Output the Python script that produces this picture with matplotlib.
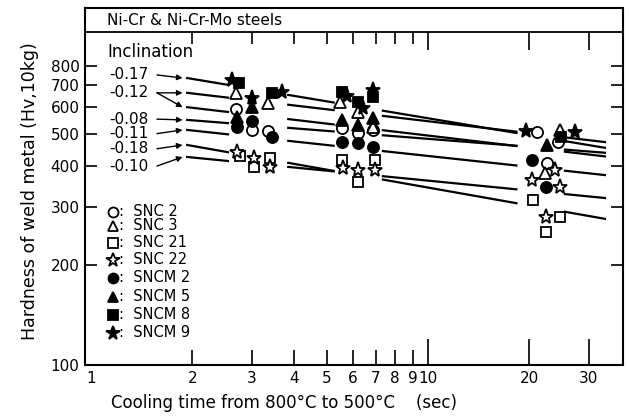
import numpy as np
import matplotlib.pyplot as plt

# cooling time (sec) / hardness (Hv), one pair of lists per steel
t_snc2 = [2.7, 3.0, 3.35, 5.55, 6.2, 6.85, 21.0, 22.6, 24.3]
h_snc2 = [593, 513, 510, 520, 502, 513, 506, 407, 472]
t_snc3 = [2.7, 3.35, 5.5, 6.2, 6.85, 24.6, 22.2]
h_snc3 = [664, 619, 623, 580, 524, 513, 380]
t_snc21 = [2.77, 3.05, 3.4, 5.55, 6.2, 6.95, 20.5, 24.6, 22.4]
h_snc21 = [428, 396, 422, 416, 357, 416, 315, 280, 252]
t_snc22 = [2.71, 3.05, 3.4, 5.6, 6.2, 6.95, 20.4, 24.6, 23.8, 22.4]
h_snc22 = [440, 422, 396, 393, 388, 388, 362, 345, 388, 280]
t_sncm2 = [2.71, 3.0, 3.45, 5.55, 6.2, 6.85, 20.4, 22.4]
h_sncm2 = [525, 545, 490, 472, 469, 456, 416, 345]
t_sncm5 = [2.71, 3.0, 5.55, 6.2, 6.85, 22.6]
h_sncm5 = [560, 600, 550, 531, 557, 462]
t_sncm8 = [2.75, 3.45, 5.55, 6.2, 6.87, 24.8]
h_sncm8 = [710, 664, 668, 623, 645, 490]
t_sncm9 = [2.62, 3.0, 3.7, 5.75, 6.4, 6.87, 19.5, 27.3]
h_sncm9 = [724, 640, 668, 650, 598, 678, 510, 506]

# regression lines: slope (inclination) and hardness at t0
line_slope = [-0.17, -0.12, -0.12, -0.08, -0.11, -0.18, -0.10]
line_h0 = [736, 664, 601, 550, 513, 462, 425]
t0 = 1.93
segments = [(1.93, 2.55), (3.85, 5.25), (7.35, 18.3), (25.5, 33.5)]

incl_labels = ['-0.17', '-0.12', '-0.08', '-0.11', '-0.18', '-0.10']
incl_label_h = [752, 664, 553, 500, 450, 399]
incl_to_line = [[0], [1, 2], [3], [4], [5], [6]]

steels = [
    ('o', False, 'SNC 2', t_snc2, h_snc2),
    ('^', False, 'SNC 3', t_snc3, h_snc3),
    ('s', False, 'SNC 21', t_snc21, h_snc21),
    ('*', False, 'SNC 22', t_snc22, h_snc22),
    ('o', True, 'SNCM 2', t_sncm2, h_sncm2),
    ('^', True, 'SNCM 5', t_sncm5, h_sncm5),
    ('s', True, 'SNCM 8', t_sncm8, h_sncm8),
    ('*', True, 'SNCM 9', t_sncm9, h_sncm9),
]
msize = {'o': 8, '^': 8.5, 's': 7.5, '*': 11}

fig = plt.figure(figsize=(6.29, 4.19), dpi=100)
ax = fig.add_axes([0.1351, 0.1289, 0.8553, 0.852])
ax.set_xscale('log')
ax.set_yscale('log')
ax.set_xlim(0.96, 37.9)
ax.set_ylim(100, 1198)
for s in ax.spines.values():
    s.set_linewidth(1.5)

# lines
for slope, h0 in zip(line_slope, line_h0):
    for a, b in segments:
        tt = np.array([a, b])
        ax.plot(tt, h0 * (tt / t0) ** slope, color='k', lw=1.6, zorder=2)

# points
for mk, filled, name, tt, hh in steels:
    ax.plot(tt, hh, ls='none', marker=mk, ms=msize[mk], mew=1.3,
            mec='k', mfc='k' if filled else 'white', zorder=3)

# inclination labels with arrows
ax.text(1.116, 883, 'Inclination', fontsize=12, va='center')
for lab, hl, idx in zip(incl_labels, incl_label_h, incl_to_line):
    ax.text(1.13, hl, lab, fontsize=11, va='center')
    for i in idx:
        ax.annotate('', xy=(1.87, line_h0[i]), xytext=(1.57, hl),
                    arrowprops=dict(arrowstyle='-|>', lw=1.0, color='k',
                                    mutation_scale=8, shrinkA=0, shrinkB=0))

# legend
leg_y = [212, 226, 243, 260, 278, 297, 315, 333]
for (mk, filled, name, tt, hh), py in zip(steels, leg_y):
    yf = (365 - py) / 357
    ax.plot(0.052, yf, marker=mk, ms=msize[mk] * 0.9, mew=1.3, mec='k',
            mfc='k' if filled else 'white', transform=ax.transAxes, clip_on=False)
    ax.text(0.064, yf, ':  ' + name, fontsize=10.5, va='center', transform=ax.transAxes)

# title band
ax.axhline(1014, color='k', lw=1.3)
ax.text(1.116, 1100, 'Ni-Cr & Ni-Cr-Mo steels', fontsize=11, va='center')
ax.vlines([2, 3, 4, 5, 6, 7, 8, 9], 933, 1014, color='k', lw=1.2)
ax.vlines([10, 20, 30], 895, 1014, color='k', lw=1.2)

# ticks
ax.set_xticks([1, 10, 20, 30])
ax.set_xticklabels(['1', '10', '20', '30'])
ax.set_xticks([2, 3, 4, 5, 6, 7, 8, 9], minor=True)
ax.set_xticklabels(['2', '3', '4', '5', '6', '7', '8', '9'], minor=True)
ax.tick_params(axis='x', which='major', direction='in', length=19, width=1.2, labelsize=11, pad=4)
ax.tick_params(axis='x', which='minor', direction='in', length=11, width=1.2, labelsize=11, pad=4)
ax.xaxis.get_major_ticks()[0].tick1line.set_visible(False)
ax.set_yticks([100, 200, 300, 400, 500, 600, 700, 800])
ax.set_yticklabels(['100', '200', '300', '400', '500', '600', '700', '800'])
ax.yaxis.set_minor_locator(plt.NullLocator())
ax.tick_params(axis='y', direction='in', length=8.5, width=1.2, left=True, right=True,
               labelsize=11, pad=4)

fig.text(0.452, 0.038, 'Cooling time from 800°C to 500°C    (sec)', fontsize=12,
         ha='center', va='center')
fig.text(0.048, 0.545, 'Hardness of weld metal (Hv,10kg)', fontsize=12.5,
         rotation=90, ha='center', va='center')

fig.savefig('out.png', dpi=100)
